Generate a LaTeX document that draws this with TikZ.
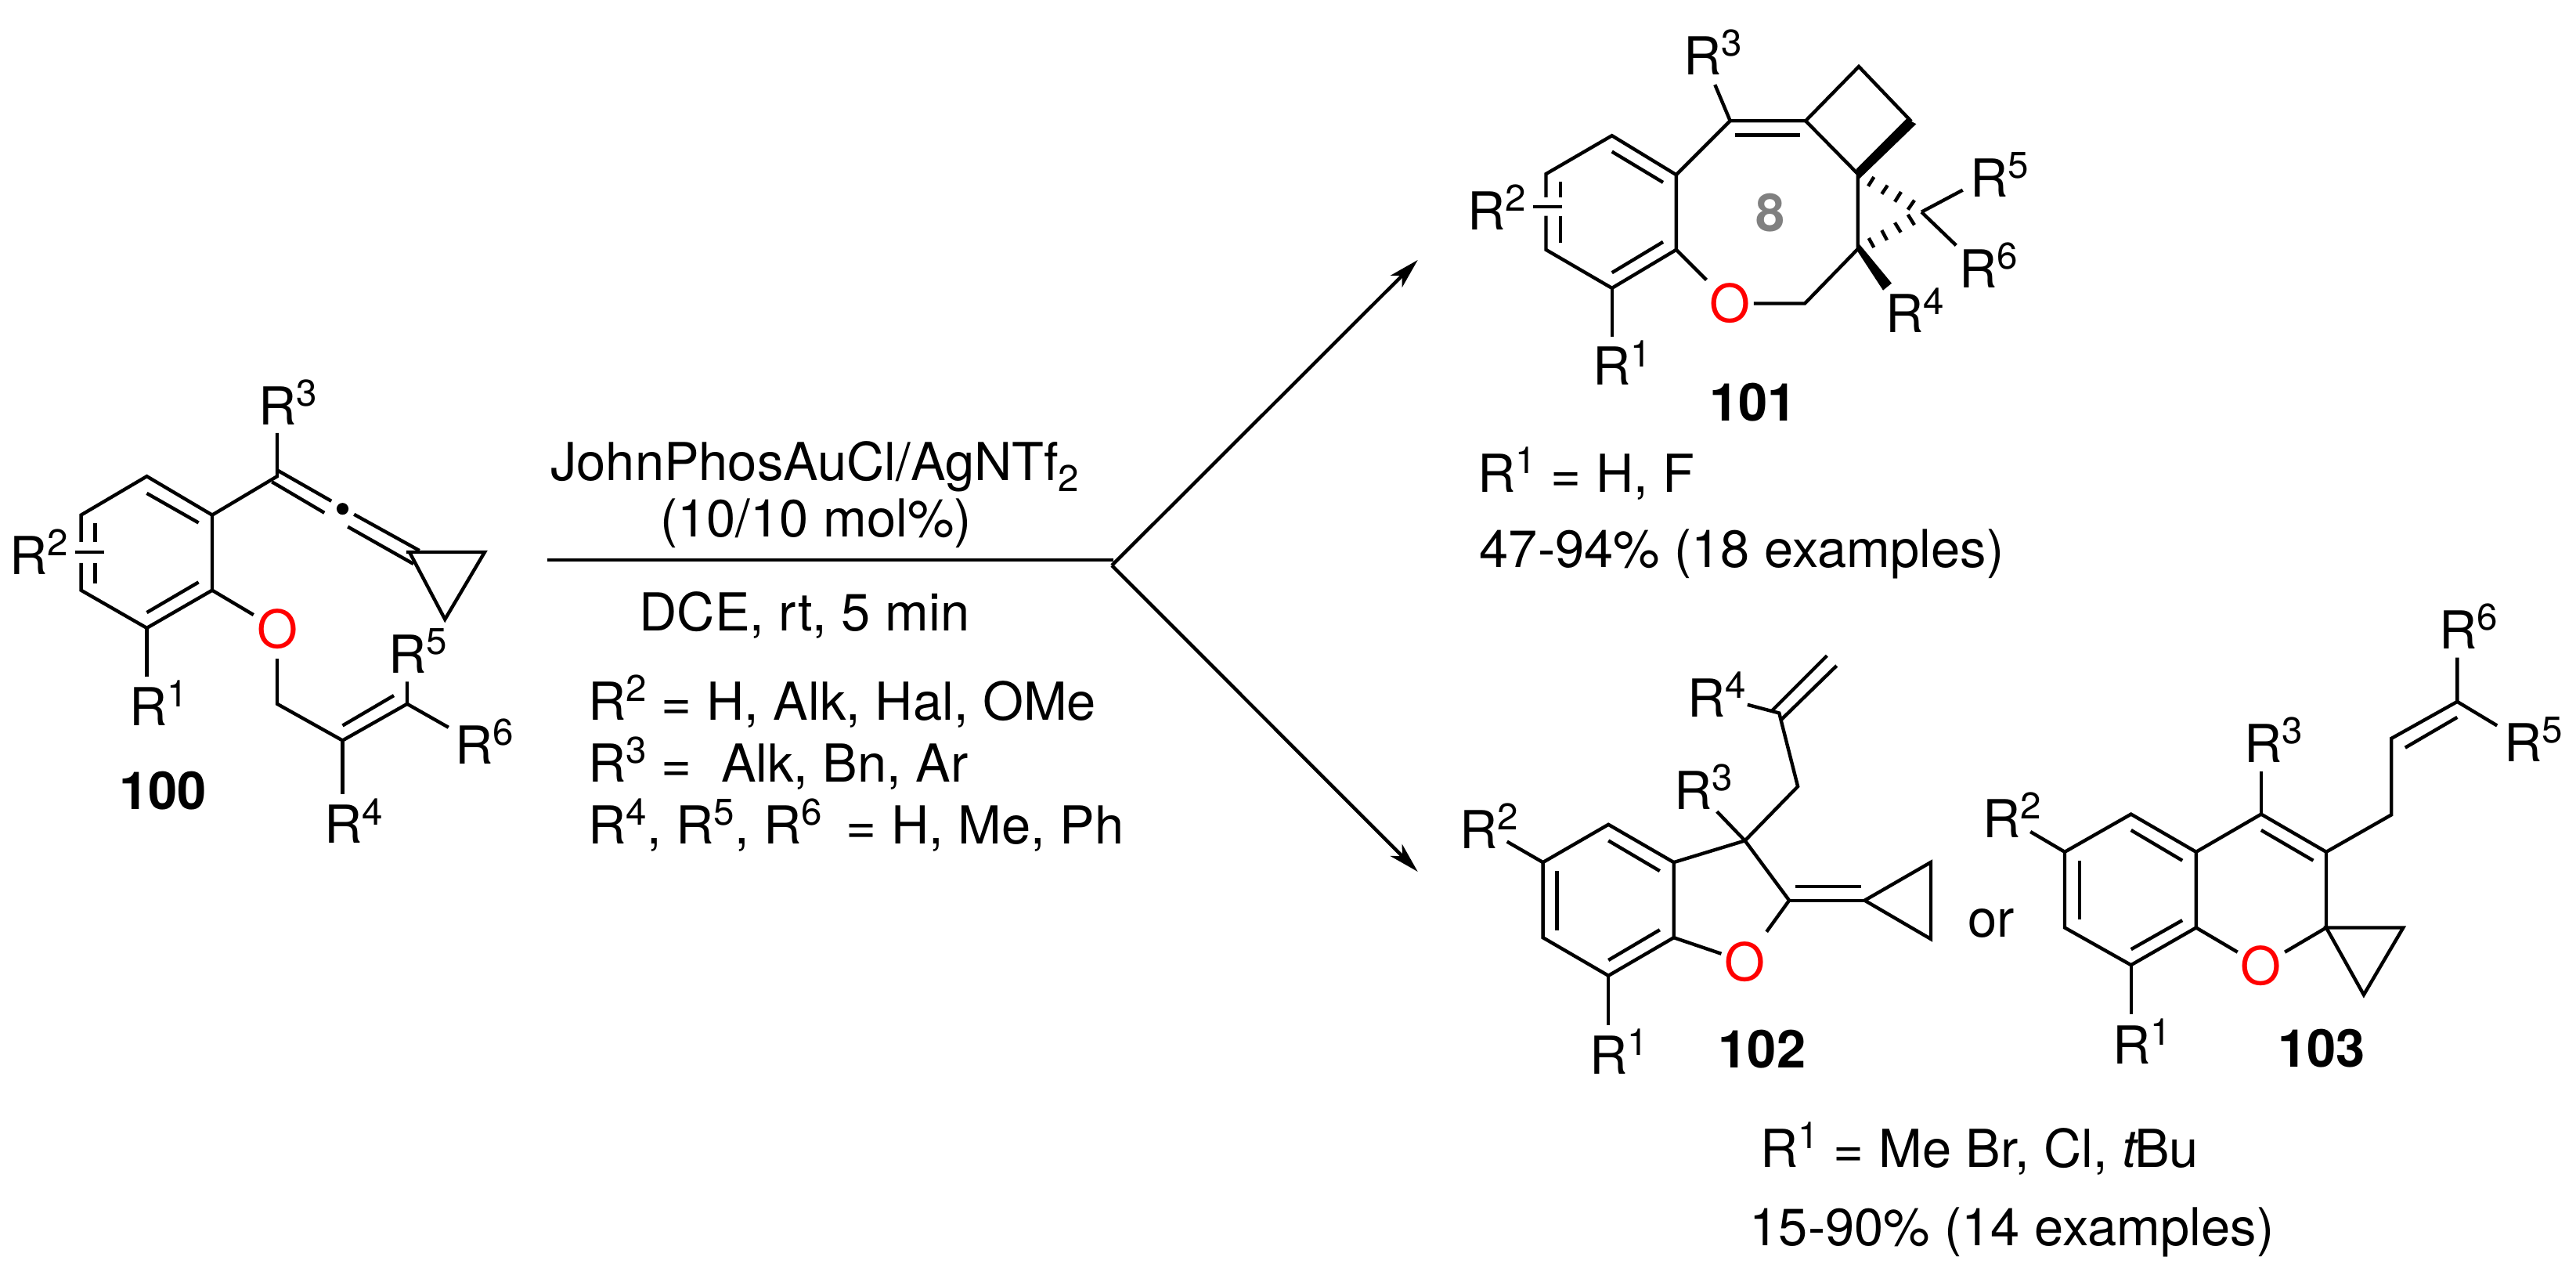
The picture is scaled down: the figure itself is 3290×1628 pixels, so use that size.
\documentclass[tikz,border=0pt]{standalone}
\usepackage{fontspec}
\setmainfont{TeX Gyre Heros}
\usetikzlibrary{arrows.meta, positioning}
\newcommand{\rsup}[1]{R\raisebox{6.8pt}{\fontsize{13.5}{13.5}\selectfont #1}}
\definecolor{oxred}{HTML}{FF0000}
\definecolor{ringgray}{HTML}{808080}

\begin{document}
\begin{tikzpicture}[
            x=0.01cm,
            y=-0.01cm,
            font=\fontsize{19}{22}\selectfont,
            bond/.style={
                line width=1.25pt
            },
            arrow/.style={
                -{Stealth[length=11pt, width=6pt, inset=3pt]},
                line width=1.25pt
            },
            sublabel/.style={
                anchor=base west,
                inner sep=0pt
            },
            caption/.style={
                anchor=base,
                inner sep=0pt
            },
            number/.style={
                anchor=base,
                inner sep=0pt,
                font=\fontsize{19}{22}\selectfont\bfseries
            },
            oxygen/.style={
                text=oxred,
                inner xsep=1pt,
                inner ysep=3.4pt
            }
        ]
        \useasboundingbox (0,0) rectangle (3290,1628);

        % Scheme arrows
        \coordinate (linestart) at (699.4,715);
        \coordinate (lineend) at (1421.7,715);
        \coordinate (branch) at (1420,722);
        \coordinate (tipup) at (1810.7,332);
        \coordinate (tipdown) at (1810.7,1113);
        \draw[bond] (linestart) -- (lineend);
        \draw[arrow] (branch) -- (tipup);
        \draw[arrow] (branch) -- (tipdown);

        % Conditions
        \node (catalyst) [caption] at (1040.8,613.2) {JohnPhosAuCl/AgNTf\raisebox{-4pt}{\fontsize{13.5}{13.5}\selectfont 2}};
        \node (loading) [caption] at (1042,685.7) {(10/10 mol\%)};
        \node (solvent) [caption] at (1027.5,805.4) {DCE, rt, 5 min};
        \node (scopetwo) [sublabel] at (751,919.6) {\rsup{2} = H, Alk, Hal, OMe};
        \node (scopethree) [sublabel] at (751,998.2) {\rsup{3} = \ Alk, Bn, Ar};
        \node (scopefour) [sublabel] at (751,1077.5) {\rsup{4}, \rsup{5}, \rsup{6}\hspace{3.5pt} = H, Me, Ph};

        % Substrate 100: atoms
        \coordinate (a1) at (187.5,608.2);
        \coordinate (a2) at (271,657.6);
        \coordinate (a3) at (271,753.7);
        \coordinate (a4) at (187.5,801.9);
        \coordinate (a5) at (103.6,753.7);
        \coordinate (a6) at (103.6,657.6);
        \coordinate (asplita) at (103.6,692);
        \coordinate (asplitb) at (103.6,718.9);
        \coordinate (aallene) at (354,608.2);
        \coordinate (acha) at (354,898.8);
        \coordinate (achb) at (437.5,945.5);
        \coordinate (achc) at (520,898.8);
        \coordinate (atria) at (518.8,705);
        \coordinate (atrib) at (619,705);
        \coordinate (atric) at (568.3,790.8);
        \coordinate (atrid) at (523,705);

        % Substrate 100: inner strokes of double bonds
        \coordinate (ain1) at (187.5,629.9);
        \coordinate (ain2) at (253.6,667.5);
        \coordinate (ain3) at (253.6,743.4);
        \coordinate (ain4) at (187.5,782.1);
        \coordinate (ain5) at (121.4,668.3);
        \coordinate (ain6) at (121.4,692);
        \coordinate (ain7) at (121.4,718.9);
        \coordinate (ain8) at (121.4,744.6);
        \coordinate (ain9) at (437.5,926.5);
        \coordinate (ain10) at (503,888.1);
        \coordinate (aall1) at (354,600.3);
        \coordinate (aall2) at (423.2,639.8);
        \coordinate (aall3) at (347.3,615.3);
        \coordinate (aall4) at (414.3,654.8);
        \coordinate (aall5) at (452.2,656.8);
        \coordinate (aall6) at (535.7,703);
        \coordinate (aall7) at (444.2,672.6);
        \coordinate (aall8) at (528,720);

        % Substrate 100: free bond ends
        \coordinate (abondone) at (187.5,864.4);
        \coordinate (abondtwoa) at (96,705);
        \coordinate (abondtwob) at (133,705);
        \coordinate (abondthree) at (354,552.8);
        \coordinate (abondfour) at (437.5,1013.5);
        \coordinate (abondfive) at (520,870.3);
        \coordinate (abondsix) at (572.8,928.8);

        % Substrate 100: labels
        \node (aox) [oxygen] at (354,803) {O};
        \node (arone) [sublabel] at (164.6,926.5) {\rsup{1}};
        \node (artwo) [sublabel] at (12,733.9) {\rsup{2}};
        \node (arthree) [sublabel] at (329.8,542.9) {\rsup{3}};
        \node (arfour) [sublabel] at (413.7,1077) {\rsup{4}};
        \node (arfive) [sublabel] at (496,859.2) {\rsup{5}};
        \node (arsix) [sublabel] at (580.7,975.9) {\rsup{6}};
        \node (numa) [number] at (208,1033) {100};
        \node[circle, fill=black, inner sep=0pt, minimum size=4.3pt] (adot) at (437.5,649.7) {};

        % Substrate 100: bonds
        \draw[bond] (asplita) -- (a6) -- (a1) -- (a2) -- (a3) -- (a4) -- (a5) -- (asplitb);
        \draw[bond] (ain1) -- (ain2);
        \draw[bond] (ain3) -- (ain4);
        \draw[bond] (ain5) -- (ain6);
        \draw[bond] (ain7) -- (ain8);
        \draw[bond] (abondtwoa) -- (abondtwob);
        \draw[bond] (a4) -- (abondone);
        \draw[bond] (a2) -- (aallene) -- (abondthree);
        \draw[bond] (aall1) -- (aall2);
        \draw[bond] (aall3) -- (aall4);
        \draw[bond] (aall5) -- (aall6);
        \draw[bond] (aall7) -- (aall8);
        \draw[bond] (atria) -- (atrib) -- (atric) -- (atrid);
        \draw[bond] (a3) -- (aox);
        \draw[bond] (aox) -- (acha) -- (achb) -- (achc) -- (abondfive);
        \draw[bond] (ain9) -- (ain10);
        \draw[bond] (achc) -- (abondsix);
        \draw[bond] (achb) -- (abondfour);

        % Product 101: atoms
        \coordinate (b1) at (2058.7,173.2);
        \coordinate (b2) at (2140.8,223.2);
        \coordinate (b3) at (2140.8,318.9);
        \coordinate (b4) at (2058.7,367.9);
        \coordinate (b5) at (1974.5,318.9);
        \coordinate (b6) at (1974.5,222.1);
        \coordinate (bsplita) at (1974.5,251.8);
        \coordinate (bsplitb) at (1974.5,275.7);
        \coordinate (bene) at (2209.7,154.3);
        \coordinate (bfus) at (2306.1,154.3);
        \coordinate (bbuta) at (2374,85);
        \coordinate (bbutb) at (2441,155);
        \coordinate (bspiro) at (2372.7,222);
        \coordinate (bcfour) at (2372.7,318);
        \coordinate (bcht) at (2305.1,387.5);
        \coordinate (bapex) at (2454,270.7);
        \coordinate (bwedgea) at (2435,151.7);
        \coordinate (bwedgeb) at (2447.3,158.3);
        \coordinate (bwedgec) at (2373.5,229.5);
        \coordinate (bwedged) at (2370.7,216);
        \coordinate (bwedgee) at (2416,361.7);
        \coordinate (bwedgef) at (2405,370.7);
        \coordinate (bwedgeg) at (2370.7,318.3);
        \coordinate (bwedgeh) at (2373.3,310);

        % Product 101: inner strokes of double bonds
        \coordinate (bin1) at (2058.7,193.6);
        \coordinate (bin2) at (2124,232.9);
        \coordinate (bin3) at (2124,308.9);
        \coordinate (bin4) at (2058.7,348.2);
        \coordinate (bin5) at (1992.9,232.1);
        \coordinate (bin6) at (1992.9,251.8);
        \coordinate (bin7) at (1992.9,275.7);
        \coordinate (bin8) at (1992.9,309.6);
        \coordinate (bin9) at (2215.8,172.5);
        \coordinate (bin10) at (2299,172.5);

        % Product 101: free bond ends
        \coordinate (bbondone) at (2058.7,430.4);
        \coordinate (bbondtwoa) at (1958.2,264.3);
        \coordinate (bbondtwob) at (1994.9,264.3);
        \coordinate (bbondthree) at (2190.3,108.2);
        \coordinate (bbondfive) at (2506.7,242.7);
        \coordinate (bbondsix) at (2498.3,313.3);

        % Product 101: labels
        \node (box) [oxygen] at (2209.7,387.5) {O};
        \node (brone) [sublabel] at (2033.8,492) {\rsup{1}};
        \node (brtwo) [sublabel] at (1874,293.6) {\rsup{2}};
        \node (brthree) [sublabel] at (2149.6,95.4) {\rsup{3}};
        \node (brfour) [sublabel] at (2408,425) {\rsup{4}};
        \node (brfive) [sublabel] at (2516,251.8) {\rsup{5}};
        \node (brsix) [sublabel] at (2501.6,367.9) {\rsup{6}};
        \node (numb) [number] at (2239.4,538) {101};
        \node (ringsize) [text=ringgray, font=\fontsize{19}{22}\selectfont\bfseries, inner sep=0pt] at (2260.7,272) {8};
        \node (yieldbr) [sublabel] at (1887,628.3) {\rsup{1} = H, F};
        \node (yieldb) [sublabel] at (1889,725) {47-94\% (18 examples)};

        % Product 101: bonds
        \draw[bond] (bsplita) -- (b6) -- (b1) -- (b2) -- (b3) -- (b4) -- (b5) -- (bsplitb);
        \draw[bond] (bin1) -- (bin2);
        \draw[bond] (bin3) -- (bin4);
        \draw[bond] (bin5) -- (bin6);
        \draw[bond] (bin7) -- (bin8);
        \draw[bond] (bbondtwoa) -- (bbondtwob);
        \draw[bond] (b4) -- (bbondone);
        \draw[bond] (b2) -- (bene) -- (bfus) -- (bbuta) -- (bbutb);
        \draw[bond] (bene) -- (bbondthree);
        \draw[bond] (bin9) -- (bin10);
        \draw[bond] (bfus) -- (bspiro) -- (bcfour) -- (bcht) -- (box);
        \draw[bond] (b3) -- (box);
        \draw[bond] (bapex) -- (bbondfive);
        \draw[bond] (bapex) -- (bbondsix);
        \fill (bwedged) -- (bwedgea) -- (bwedgeb) -- (bwedgec) -- cycle;
        \fill (bwedgeh) -- (bwedgee) -- (bwedgef) -- (bwedgeg) -- cycle;
        \foreach \xa/\ya/\xb/\yb in {2393.3/226/2386/237.7, 2410.7/236.7/2403.3/247.7,
                2428/245/2420/257.7, 2445/255.7/2436.7/267.7,
                2386.7/304/2393.3/316, 2403.3/294/2410/306.7,
                2420/284.3/2427.7/296.7, 2436.7/274/2445/287.3}
            \draw[bond] (\xa,\ya) -- (\xb,\yb);

        % Product 102: atoms
        \coordinate (c1) at (2054.2,1052.8);
        \coordinate (c2) at (2137.7,1101.1);
        \coordinate (c3) at (2137.7,1197.2);
        \coordinate (c4) at (2054.2,1245.8);
        \coordinate (c5) at (1970.6,1197.2);
        \coordinate (c6) at (1970.6,1101.1);
        \coordinate (cquat) at (2228.6,1073.4);
        \coordinate (cene) at (2285.1,1149.7);
        \coordinate (ccht) at (2296.1,1004.2);
        \coordinate (cvin) at (2272.3,910.5);
        \coordinate (ctria) at (2381.5,1149.7);
        \coordinate (ctrib) at (2466,1101);
        \coordinate (ctric) at (2466,1199);

        % Product 102: inner strokes of double bonds
        \coordinate (cin1) at (2054.2,1073.4);
        \coordinate (cin2) at (2119.8,1112.1);
        \coordinate (cin3) at (2119.8,1187.3);
        \coordinate (cin4) at (2054.2,1226);
        \coordinate (cin5) at (1988.5,1112.1);
        \coordinate (cin6) at (1988.5,1188.1);
        \coordinate (cin7) at (2292.9,1131.9);
        \coordinate (cin8) at (2376.9,1131.9);
        \coordinate (cvina) at (2262.1,908.5);
        \coordinate (cvinb) at (2333.3,837.3);
        \coordinate (cvinc) at (2275.5,918.4);
        \coordinate (cvind) at (2345.7,850);

        % Product 102: free bond ends
        \coordinate (cbondone) at (2054.2,1308.7);
        \coordinate (cbondtwo) at (1924.7,1074.6);
        \coordinate (cbondthree) at (2192.8,1036.2);
        \coordinate (cbondfour) at (2231.8,899.8);

        % Product 102: labels
        \node (cox) [oxygen] at (2228.6,1228) {O};
        \node (crone) [sublabel] at (2029.9,1371) {\rsup{1}};
        \node (crtwo) [sublabel] at (1864,1083.7) {\rsup{2}};
        \node (crthree) [sublabel] at (2137.3,1033) {\rsup{3}};
        \node (crfour) [sublabel] at (2154.8,915.6) {\rsup{4}};
        \node (numc) [number] at (2250.5,1363.2) {102};
        \node (orword) [sublabel] at (2513,1196.7) {or};

        % Product 102: bonds
        \draw[bond] (c1) -- (c2) -- (c3) -- (c4) -- (c5) -- (c6) -- cycle;
        \draw[bond] (cin1) -- (cin2);
        \draw[bond] (cin3) -- (cin4);
        \draw[bond] (cin5) -- (cin6);
        \draw[bond] (c6) -- (cbondtwo);
        \draw[bond] (c4) -- (cbondone);
        \draw[bond] (c2) -- (cquat) -- (cene) -- (cox);
        \draw[bond] (c3) -- (cox);
        \draw[bond] (cquat) -- (cbondthree);
        \draw[bond] (cquat) -- (ccht) -- (cvin) -- (cbondfour);
        \draw[bond] (cvina) -- (cvinb);
        \draw[bond] (cvinc) -- (cvind);
        \draw[bond] (cene) -- (ctria);
        \draw[bond] (cin7) -- (cin8);
        \draw[bond] (ctria) -- (ctrib) -- (ctric) -- cycle;

        % Product 103: atoms
        \coordinate (d1) at (2721.7,1039.6);
        \coordinate (d2) at (2804.8,1087.8);
        \coordinate (d3) at (2804.8,1184.5);
        \coordinate (d4) at (2721.7,1232.2);
        \coordinate (d5) at (2637,1184.5);
        \coordinate (d6) at (2637,1087.8);
        \coordinate (dcfour) at (2887.9,1039.6);
        \coordinate (dcthree) at (2971,1087.8);
        \coordinate (dspiro) at (2971,1184.5);
        \coordinate (dtrib) at (3069.3,1184.5);
        \coordinate (dtric) at (3018.9,1270.2);
        \coordinate (dcha) at (3054.2,1040.4);
        \coordinate (dchb) at (3054.2,942.9);
        \coordinate (dchc) at (3138.3,895.9);

        % Product 103: inner strokes of double bonds
        \coordinate (din1) at (2721.7,1060);
        \coordinate (din2) at (2787.2,1098.8);
        \coordinate (din3) at (2787.2,1175.1);
        \coordinate (din4) at (2721.7,1212.2);
        \coordinate (din5) at (2656.2,1098.8);
        \coordinate (din6) at (2656.2,1174.3);
        \coordinate (din7) at (2887.9,1060);
        \coordinate (din8) at (2954.4,1098.8);
        \coordinate (din9) at (3071.8,954.7);
        \coordinate (din10) at (3138.3,915.9);

        % Product 103: free bond ends
        \coordinate (dbondone) at (2721.7,1294.7);
        \coordinate (dbondtwo) at (2593.2,1062);
        \coordinate (dbondthree) at (2887.9,984.5);
        \coordinate (dbondfive) at (3189.2,926.5);
        \coordinate (dbondsix) at (3138.3,839.6);

        % Product 103: labels
        \node (dox) [oxygen] at (2887.9,1233.5) {O};
        \node (drone) [sublabel] at (2698,1358.8) {\rsup{1}};
        \node (drtwo) [sublabel] at (2531.3,1069) {\rsup{2}};
        \node (drthree) [sublabel] at (2865.3,973) {\rsup{3}};
        \node (drfive) [sublabel] at (3197.8,972.2) {\rsup{5}};
        \node (drsix) [sublabel] at (3114.6,828.6) {\rsup{6}};
        \node (numd) [number] at (2965,1362.9) {103};
        \node (yieldcr) [sublabel] at (2248,1490.7) {\rsup{1} = Me Br, Cl, \textit{t}\kern-1.5ptBu};
        \node (yieldc) [sublabel] at (2234,1590.7) {15-90\% (14 examples)};

        % Product 103: bonds
        \draw[bond] (d1) -- (d2) -- (d3) -- (d4) -- (d5) -- (d6) -- cycle;
        \draw[bond] (din1) -- (din2);
        \draw[bond] (din3) -- (din4);
        \draw[bond] (din5) -- (din6);
        \draw[bond] (d6) -- (dbondtwo);
        \draw[bond] (d4) -- (dbondone);
        \draw[bond] (d2) -- (dcfour) -- (dcthree) -- (dspiro) -- (dox);
        \draw[bond] (d3) -- (dox);
        \draw[bond] (dcfour) -- (dbondthree);
        \draw[bond] (din7) -- (din8);
        \draw[bond] (dcthree) -- (dcha) -- (dchb) -- (dchc) -- (dbondsix);
        \draw[bond] (din9) -- (din10);
        \draw[bond] (dchc) -- (dbondfive);
        \draw[bond] (dspiro) -- (dtrib) -- (dtric) -- cycle;

        \end{tikzpicture}
\end{document}
